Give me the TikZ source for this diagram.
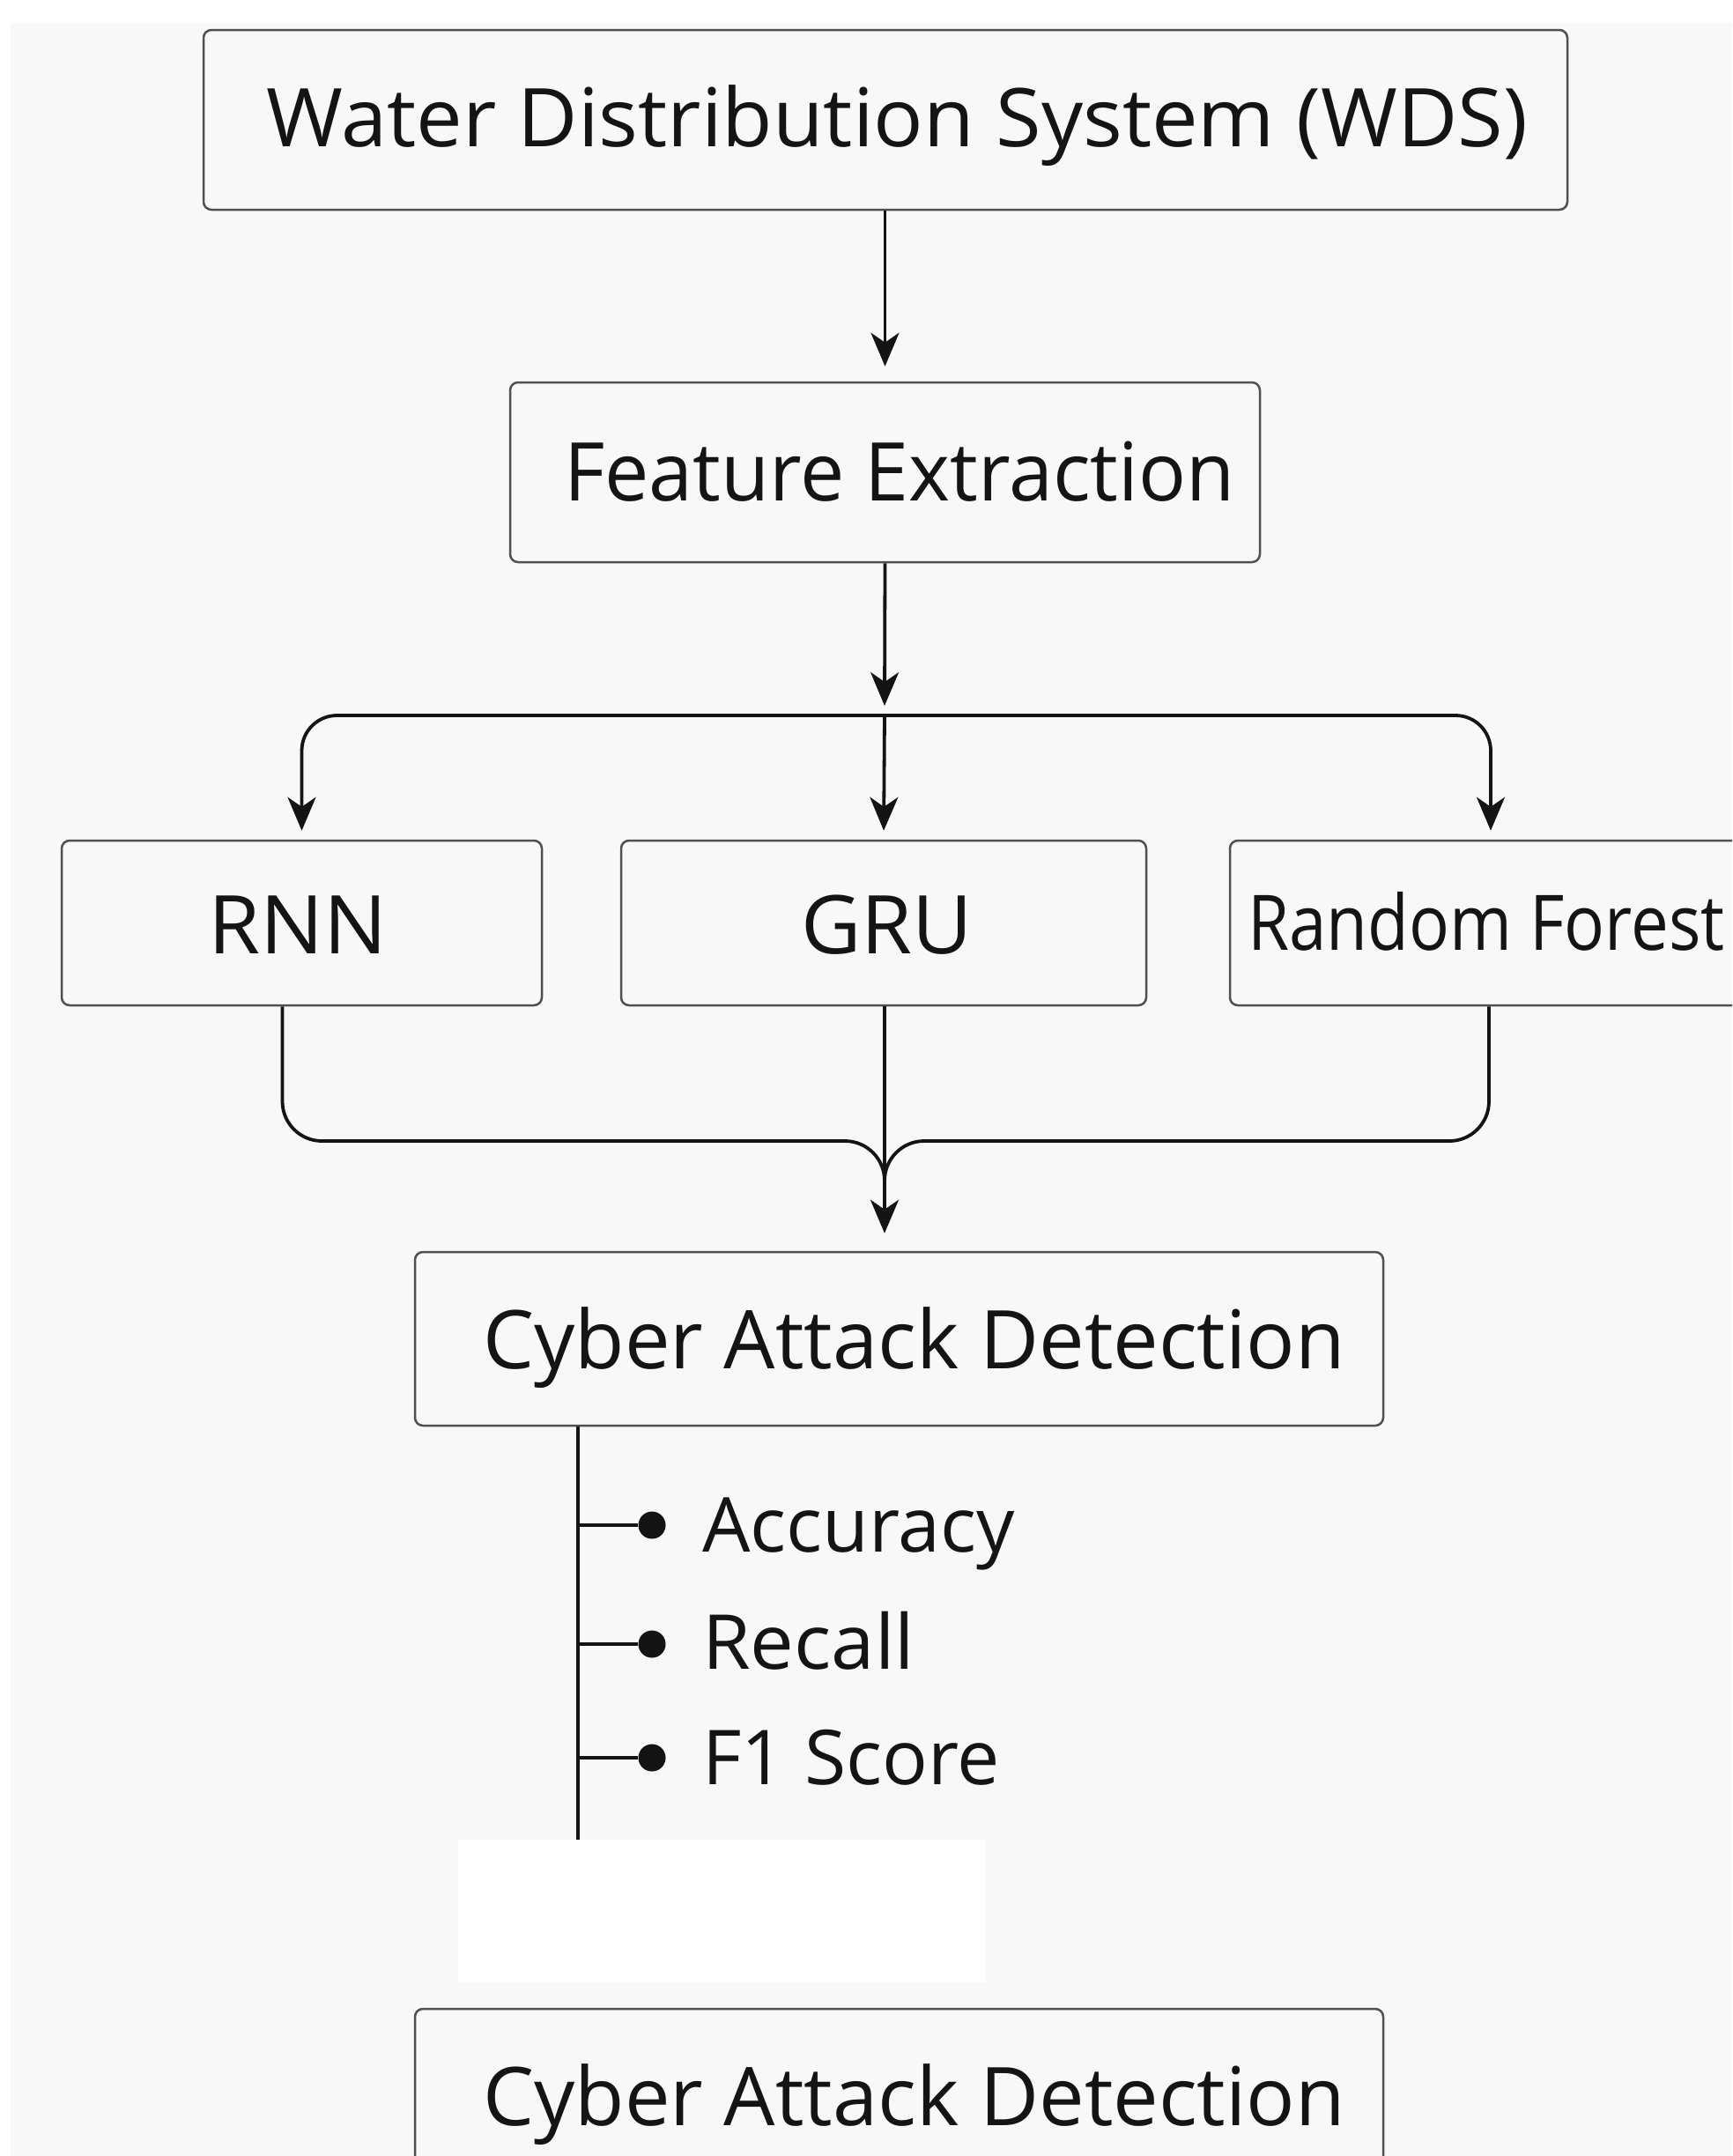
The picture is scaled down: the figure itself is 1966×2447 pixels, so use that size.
\documentclass[tikz,border=0pt]{standalone}
\usepackage{fontspec}
\usepackage{graphicx}
\setmainfont{Open Sans}
\usetikzlibrary{arrows.meta,calc}
\definecolor{bg}{RGB}{248,248,248}
\definecolor{edge}{RGB}{80,80,80}
\definecolor{ink}{RGB}{20,20,20}
\newcommand{\bigtxt}{\fontsize{92pt}{100pt}\selectfont}
\newcommand{\smalltxt}{\fontsize{86pt}{95pt}\selectfont}
\begin{document}
\begin{tikzpicture}[x=1pt,y=-1pt,
  boxnode/.style={draw=edge, fill=bg, line width=2.5pt, rounded corners=9pt, rectangle, inner sep=0pt},
  label/.style={anchor=base west, inner sep=0pt, text=ink, font=\bigtxt},
  sublabel/.style={anchor=base west, inner sep=0pt, text=ink, font=\smalltxt},
  conn/.style={draw=ink, line width=3.8pt},
  arr/.style={conn, -{Stealth[length=38pt,width=32pt,inset=11pt]}},
  dotnode/.style={circle, fill=ink, inner sep=0pt, minimum size=31pt}]
\useasboundingbox (0,0) rectangle (1966,2447);
\clip (0,0) rectangle (1966,2447);
\fill[white] (0,0) rectangle (1966,2447);
\fill[bg] (12,26) rectangle (1966,2447);

% boxes
\node[boxnode, minimum width=1548pt, minimum height=204pt] (wds) at (1005,136) {};
\node[boxnode, minimum width=851pt, minimum height=204pt] (fe) at (1004.5,536) {};
\node[boxnode, minimum width=545pt, minimum height=187pt] (rnn) at (342.5,1047.5) {};
\node[boxnode, minimum width=596pt, minimum height=187pt] (gru) at (1003,1047.5) {};
\node[boxnode, minimum width=592pt, minimum height=187pt] (rf) at (1692,1047.5) {};
\node[boxnode, minimum width=1099pt, minimum height=197pt] (cad) at (1020.5,1519.5) {};
\node[boxnode, minimum width=1099pt, minimum height=197pt] (cadb) at (1020.5,2378.5) {};

% texts
\node[label] (twds) at (302,166) {\scalebox{1.02}[1]{Water Distribution System (WDS)}};
\node[label] (tfe) at (640,568) {\scalebox{0.975}[1]{Feature Extraction}};
\node[label] (trnn) at (236,1082) {\scalebox{1.04}[1]{RNN}};
\node[label] (tgru) at (909,1082) {\scalebox{1.02}[1]{GRU}};
\node[label] (trf) at (1416,1078) {\scalebox{0.877}[1]{\fontsize{87pt}{95pt}\selectfont Random Forest}};
\node[label] (tcad) at (548,1553) {Cyber Attack Detection};
\node[label] (tcadb) at (548,2412) {Cyber Attack Detection};

% connectors
\coordinate (split) at (1004,812);
\coordinate (mj) at (1004,1295);
\coordinate (mk) at (1004,1370);
\draw[arr, shorten >=17pt] (wds.south -| fe.north) -- (fe.north);
\draw[arr] (fe.south) -- ([yshift=11pt]split);
\draw[arr, rounded corners=40pt, shorten >=10pt] (split) -| (rnn.north);
\draw[arr, rounded corners=40pt, shorten >=10pt] (split) -| (rf.north);
\draw[arr, shorten >=10pt] (split) -- (gru.north);

\draw[conn, rounded corners=45pt] ([xshift=-22pt]rnn.south) |- (mj) -- (mk);
\draw[conn, rounded corners=45pt] ([xshift=-2pt]rf.south) |- (mj) -- (mk);
\draw[arr, shorten >=20pt] (gru.south -| mj) -- (cad.north -| mj);

% metrics
\coordinate (tend) at (656,2088);
\node[dotnode] (d1) at (740,1731) {};
\node[dotnode] (d2) at (740,1866) {};
\node[dotnode] (d3) at (740,1995) {};
\draw[conn, line width=3.5pt] (cad.south -| tend) -- (tend);
\draw[conn, line width=3.5pt] (d1 -| tend) -- (d1);
\draw[conn, line width=3.5pt] (d2 -| tend) -- (d2);
\draw[conn, line width=3.5pt] (d3 -| tend) -- (d3);
\node[sublabel] (m1) at (797,1761) {Accuracy};
\node[sublabel] (m2) at (797,1894) {\scalebox{1.03}[1]{Recall}};
\node[sublabel] (m3) at (797,2025) {F1 Score};

\fill[white] (520,2088) rectangle (1119,2250);
\end{tikzpicture}
\end{document}
